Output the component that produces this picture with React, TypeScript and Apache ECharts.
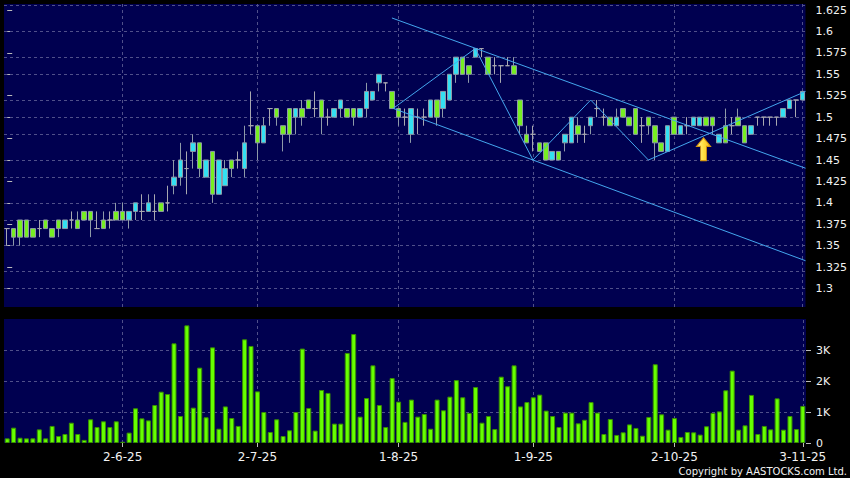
import React, { useEffect, useRef } from 'react';
import * as echarts from 'echarts';

const dates: string[] = [
  '7-5-25','8-5-25','9-5-25','12-5-25','13-5-25','14-5-25','15-5-25','16-5-25','19-5-25','20-5-25',
  '21-5-25','22-5-25','23-5-25','26-5-25','27-5-25','28-5-25','29-5-25','30-5-25',
  '2-6-25','3-6-25','4-6-25','5-6-25','6-6-25','9-6-25','10-6-25','11-6-25','12-6-25','13-6-25',
  '16-6-25','17-6-25','18-6-25','19-6-25','20-6-25','23-6-25','24-6-25','25-6-25','26-6-25','27-6-25','30-6-25',
  '2-7-25','3-7-25','4-7-25','7-7-25','8-7-25','9-7-25','10-7-25','11-7-25','14-7-25','15-7-25',
  '16-7-25','17-7-25','18-7-25','21-7-25','22-7-25','23-7-25','24-7-25','25-7-25','28-7-25','29-7-25','30-7-25','31-7-25',
  '1-8-25','4-8-25','5-8-25','6-8-25','7-8-25','8-8-25','11-8-25','12-8-25','13-8-25','14-8-25',
  '15-8-25','18-8-25','19-8-25','20-8-25','21-8-25','22-8-25','25-8-25','26-8-25','27-8-25','28-8-25','29-8-25',
  '1-9-25','2-9-25','3-9-25','4-9-25','5-9-25','8-9-25','9-9-25','10-9-25','11-9-25','12-9-25',
  '15-9-25','16-9-25','17-9-25','18-9-25','19-9-25','22-9-25','23-9-25','24-9-25','25-9-25','26-9-25','29-9-25','30-9-25',
  '2-10-25','3-10-25','6-10-25','8-10-25','9-10-25','10-10-25','13-10-25','14-10-25','15-10-25','16-10-25',
  '17-10-25','20-10-25','21-10-25','22-10-25','23-10-25','24-10-25','27-10-25','28-10-25','30-10-25','31-10-25',
  '3-11-25',
];

const labelDates: string[] = ['2-6-25', '2-7-25', '1-8-25', '1-9-25', '2-10-25', '3-11-25'];

const opens: number[] = [
  1.37,1.37,1.38,1.38,1.37,1.37,1.38,1.37,1.38,1.37,
  1.38,1.38,1.39,1.39,1.37,1.38,1.38,1.39,1.39,1.38,
  1.39,1.39,1.39,1.39,1.40,1.40,1.42,1.43,1.44,1.46,
  1.47,1.43,1.46,1.41,1.42,1.45,1.45,1.44,1.49,1.49,
  1.47,1.51,1.51,1.49,1.51,1.50,1.51,1.52,1.51,1.52,
  1.50,1.50,1.51,1.51,1.51,1.50,1.51,1.52,1.54,1.54,
  1.53,1.51,1.50,1.48,1.50,1.50,1.50,1.52,1.51,1.52,
  1.55,1.57,1.56,1.57,1.58,1.57,1.56,1.56,1.56,1.56,
  1.52,1.48,1.48,1.47,1.47,1.45,1.46,1.47,1.47,1.49,
  1.48,1.49,1.51,1.50,1.50,1.49,1.51,1.50,1.51,1.49,
  1.50,1.49,1.47,1.46,1.50,1.48,1.49,1.49,1.49,1.50,
  1.50,1.47,1.49,1.49,1.50,1.49,1.48,1.50,1.50,1.50,
  1.50,1.50,1.51,1.52,1.52,
];
const closes: number[] = [
  1.37,1.36,1.36,1.36,1.36,1.37,1.37,1.36,1.37,1.38,
  1.38,1.37,1.38,1.38,1.37,1.37,1.38,1.38,1.38,1.39,
  1.40,1.39,1.40,1.39,1.39,1.40,1.43,1.45,1.44,1.47,
  1.44,1.45,1.41,1.45,1.44,1.44,1.45,1.47,1.49,1.47,
  1.49,1.51,1.50,1.48,1.48,1.51,1.50,1.51,1.51,1.50,
  1.50,1.51,1.52,1.50,1.50,1.51,1.53,1.53,1.55,1.54,
  1.51,1.50,1.50,1.51,1.50,1.50,1.52,1.50,1.53,1.55,
  1.57,1.55,1.55,1.58,1.58,1.55,1.56,1.56,1.56,1.55,
  1.49,1.47,1.48,1.46,1.45,1.46,1.45,1.48,1.50,1.48,
  1.48,1.50,1.51,1.50,1.49,1.50,1.50,1.49,1.48,1.49,
  1.49,1.47,1.46,1.49,1.48,1.49,1.49,1.50,1.50,1.49,
  1.49,1.48,1.47,1.49,1.49,1.47,1.49,1.50,1.50,1.50,
  1.50,1.51,1.52,1.52,1.53,
];
const lows: number[] = [
  1.35,1.35,1.35,1.36,1.36,1.36,1.37,1.36,1.36,1.37,
  1.37,1.37,1.38,1.36,1.37,1.37,1.37,1.38,1.38,1.37,
  1.38,1.38,1.39,1.38,1.39,1.39,1.41,1.42,1.41,1.44,
  1.43,1.43,1.40,1.41,1.42,1.43,1.44,1.43,1.48,1.45,
  1.47,1.49,1.49,1.46,1.47,1.48,1.49,1.51,1.50,1.48,
  1.49,1.50,1.50,1.50,1.49,1.50,1.50,1.52,1.53,1.53,
  1.51,1.49,1.49,1.47,1.48,1.49,1.50,1.49,1.50,1.52,
  1.54,1.55,1.54,1.57,1.57,1.55,1.55,1.54,1.56,1.55,
  1.48,1.47,1.46,1.46,1.45,1.45,1.45,1.46,1.47,1.47,
  1.47,1.48,1.50,1.49,1.49,1.49,1.50,1.49,1.48,1.47,
  1.48,1.45,1.46,1.46,1.48,1.48,1.48,1.49,1.49,1.49,
  1.48,1.47,1.47,1.48,1.49,1.47,1.48,1.49,1.49,1.49,
  1.49,1.50,1.51,1.50,1.52,
];
const highs: number[] = [
  1.37,1.37,1.38,1.38,1.37,1.38,1.38,1.37,1.38,1.38,
  1.39,1.39,1.39,1.39,1.39,1.39,1.39,1.40,1.40,1.39,
  1.40,1.41,1.41,1.41,1.40,1.42,1.45,1.47,1.46,1.48,
  1.47,1.45,1.46,1.45,1.45,1.45,1.46,1.49,1.53,1.49,
  1.50,1.51,1.51,1.49,1.51,1.51,1.52,1.52,1.53,1.52,
  1.51,1.51,1.52,1.51,1.51,1.51,1.54,1.53,1.55,1.54,
  1.53,1.51,1.51,1.51,1.51,1.51,1.52,1.52,1.53,1.55,
  1.57,1.57,1.56,1.58,1.58,1.57,1.57,1.56,1.57,1.57,
  1.52,1.49,1.49,1.47,1.47,1.46,1.46,1.48,1.50,1.50,
  1.49,1.50,1.52,1.51,1.50,1.51,1.51,1.50,1.51,1.50,
  1.50,1.49,1.47,1.49,1.50,1.49,1.50,1.50,1.50,1.50,
  1.50,1.48,1.51,1.50,1.51,1.49,1.49,1.50,1.50,1.50,
  1.50,1.51,1.52,1.52,1.53,
];

const volumes: number[] = [
  150,495,170,150,150,440,150,550,225,290,
  655,290,100,765,515,700,515,700,40,335,
  1120,795,730,1225,1655,1580,3215,870,3795,1140,
  2430,830,3085,460,1180,805,550,3345,3130,1665,
  1000,355,765,225,410,1000,3045,1130,400,1710,
  1615,625,625,2905,3515,850,1450,2505,1225,515,
  2095,1335,680,1400,850,935,460,1400,1055,1495,
  2030,1475,970,1805,655,870,450,2140,1830,2505,
  1180,1320,1475,1560,1045,870,515,980,980,635,
  750,1320,980,290,775,260,345,600,485,235,
  840,2540,925,430,805,195,355,345,270,540,
  970,1020,1700,2335,430,570,1550,290,550,440,
  1440,430,870,450,1195,
];

const priceTicks: number[] = [1.3, 1.325, 1.35, 1.375, 1.4, 1.425, 1.45, 1.475, 1.5, 1.525, 1.55, 1.575, 1.6, 1.625];
const volumeTicks: number[] = [0, 1000, 2000, 3000];
const volumeGrid: number[] = [1000, 2000, 3000];

const upperChannel: number[][] = [[60.0, 1.6157], [124.5, 1.4404]];
const lowerChannel: number[][] = [[60.2, 1.5102], [124.5, 1.3325]];
const zigzag: number[][] = [[60.2, 1.5102], [73, 1.58], [82, 1.45], [91, 1.52], [100, 1.45], [124.5, 1.53]];
const arrowPoint: number[][] = [[108.6, 1.4626]];

const FONT = 'DejaVu Sans';
const GRID_COLOR = '#50508a';

export default function App() {
  const ref = useRef<HTMLDivElement>(null);

  useEffect(() => {
    document.body.style.margin = '0';
    document.body.style.background = '#000';
    if (!ref.current) return;
    const chart = echarts.init(ref.current, null, { renderer: 'svg' });
    const labelSet = new Set(labelDates);
    const ohlc = opens.map((o, i) => [o, closes[i], lows[i], highs[i]]);
    const gridLineStyle = { color: GRID_COLOR, width: 1, type: [3, 3] as any };

    const option: any = {
      animation: false,
      backgroundColor: '#000000',
      grid: [
        { left: 4, right: 44, top: 4, height: 303, show: true, backgroundColor: '#000050', borderWidth: 0 },
        { left: 4, right: 44, top: 319, height: 124, show: true, backgroundColor: '#000050', borderWidth: 0 },
      ],
      xAxis: [
        {
          type: 'category', gridIndex: 0, data: dates, boundaryGap: true,
          axisLine: { show: false }, axisTick: { show: false }, axisLabel: { show: false }, splitLine: { show: false },
        },
        {
          type: 'category', gridIndex: 1, data: dates, boundaryGap: true,
          axisLine: { show: false },
          axisTick: {
            show: true, alignWithLabel: true, length: 4,
            interval: (_i: number, v: string) => labelSet.has(v),
            lineStyle: { color: '#bbbbbb' },
          },
          axisLabel: {
            interval: (_i: number, v: string) => labelSet.has(v),
            color: '#f2f2f2', fontSize: 12, fontFamily: FONT, margin: 8,
          },
          splitLine: { show: false },
        },
        { type: 'value', gridIndex: 0, min: -0.5, max: 124.5, show: false },
      ],
      yAxis: [
        {
          type: 'value', gridIndex: 0, position: 'right', min: 1.2785, max: 1.632, scale: true,
          axisLine: { show: false },
          axisTick: { show: true, length: 5, customValues: priceTicks, lineStyle: { color: '#bbbbbb' } },
          axisLabel: { customValues: priceTicks, color: '#f2f2f2', fontSize: 11, fontFamily: FONT, margin: 10 },
          splitLine: { show: false },
        },
        {
          type: 'value', gridIndex: 1, position: 'right', min: 0, max: 4000,
          axisLine: { show: false },
          axisTick: { show: true, length: 5, customValues: volumeTicks, lineStyle: { color: '#bbbbbb' } },
          axisLabel: {
            customValues: volumeTicks, color: '#f2f2f2', fontSize: 11, fontFamily: FONT, margin: 10,
            formatter: (v: number) => (v === 0 ? '0' : v / 1000 + 'K'),
          },
          splitLine: { show: false },
        },
      ],
      series: [
        {
          type: 'candlestick', xAxisIndex: 0, yAxisIndex: 0, data: ohlc, barWidth: 5, z: 2,
          itemStyle: {
            color: '#33e0f2', color0: '#77ee22',
            borderColor: '#8e9aa8', borderColor0: '#8e9aa8', borderColorDoji: '#a8a8b0', borderWidth: 1,
          },
          markLine: {
            silent: true, symbol: 'none', z: 1, label: { show: false },
            lineStyle: gridLineStyle,
            data: [
              ...priceTicks.map((v) => ({ yAxis: v })),
              ...labelDates.map((d) => ({ xAxis: d })),
            ],
          },
        },
        {
          type: 'line', xAxisIndex: 2, yAxisIndex: 0, data: upperChannel, symbol: 'none', z: 3,
          lineStyle: { color: '#44a6ee', width: 1 },
        },
        {
          type: 'line', xAxisIndex: 2, yAxisIndex: 0, data: lowerChannel, symbol: 'none', z: 3,
          lineStyle: { color: '#44a6ee', width: 1 },
        },
        {
          type: 'line', xAxisIndex: 2, yAxisIndex: 0, data: zigzag, symbol: 'none', z: 3,
          lineStyle: { color: '#44a6ee', width: 1 },
        },
        {
          type: 'scatter', xAxisIndex: 2, yAxisIndex: 0, data: arrowPoint, z: 4,
          symbol: 'path://M6,0 L12,8 L8.5,8 L8.5,21 L3.5,21 L3.5,8 L0,8 Z',
          symbolSize: [14, 23],
          itemStyle: {
            color: new echarts.graphic.LinearGradient(0, 0, 1, 0, [
              { offset: 0, color: '#fff4a0' },
              { offset: 0.5, color: '#ffe040' },
              { offset: 1, color: '#f8b820' },
            ]),
            borderColor: '#d89a10', borderWidth: 1, opacity: 1,
          },
        },
        {
          type: 'bar', xAxisIndex: 1, yAxisIndex: 1, data: volumes, barWidth: 5, z: 2,
          itemStyle: { color: '#66ff00', borderColor: '#3a9000', borderWidth: 1 },
          markLine: {
            silent: true, symbol: 'none', z: 1, label: { show: false },
            lineStyle: gridLineStyle,
            data: [
              ...volumeGrid.map((v) => ({ yAxis: v })),
              ...labelDates.map((d) => ({ xAxis: d })),
            ],
          },
        },
      ],
      graphic: [
        {
          type: 'text', right: 3, bottom: 2,
          style: { text: 'Copyright by AASTOCKS.com Ltd.', fill: '#f2f2f2', font: '10px "DejaVu Sans"' },
        },
      ],
    };
    chart.setOption(option);
    return () => chart.dispose();
  }, []);

  return <div ref={ref} style={{ width: 850, height: 478, background: '#000' }} />;
}
